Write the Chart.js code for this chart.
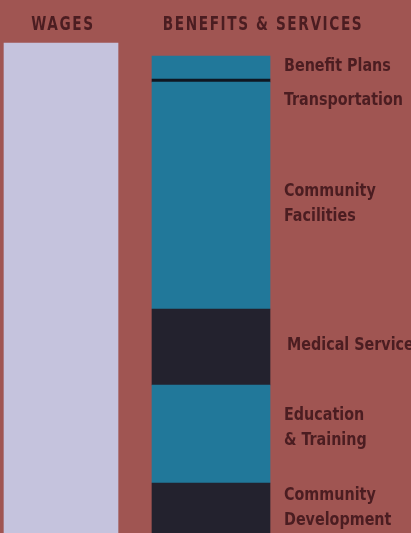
<!DOCTYPE html>
<html>
<head>
<meta charset="utf-8">
<script src="https://cdn.jsdelivr.net/npm/chart.js@4"></script>
<style>
  html, body { margin: 0; padding: 0; background: #a05552; }
  #wrap { width: 411px; height: 533px; position: relative; }
</style>
</head>
<body>
<div id="wrap"><canvas id="c"></canvas></div>
<script>
// ---- data (arbitrary height units) ----
const categories = ['WAGES', 'BENEFITS & SERVICES'];
const wages = [490, null];
// benefit segments, listed bottom to top
const benefitNames = ['Community Development', 'Education & Training', 'Medical Services',
                      'Community Facilities', 'Transportation', 'Benefit Plans'];
const benefitValues = [50, 98, 76, 227, 3, 23];
const benefitLabelLines = [['Community', 'Development'], ['Education', '& Training'], ['Medical Services'],
                           ['Community', 'Facilities'], ['Transportation'], ['Benefit Plans']];
const yMax = 533;

// ---- styles ----
const TEAL = '#21789a';
const DARK = '#23222e';
const LINE = '#0f1722';
const WAGE = '#c5c3dd';
const TEXT = '#4b1d21';
const benefitColors = [DARK, TEAL, DARK, TEAL, LINE, TEAL];
const labelOffsets = [0, -6, -2, 8, 20, -1];
const FONT = '"Liberation Sans Narrow", "DejaVu Sans Condensed", sans-serif';

const datasets = [{
  label: 'Wages',
  data: wages,
  backgroundColor: WAGE,
  barThickness: 114,
  clip: false
}];
benefitNames.forEach((n, i) => {
  datasets.push({
    label: n,
    data: [null, benefitValues[i]],
    backgroundColor: benefitColors[i],
    barThickness: 118,
    clip: false
  });
});

function squeezed(ctx, text, x, y, sx) {
  ctx.save();
  ctx.translate(x, y);
  ctx.scale(sx, 1);
  ctx.fillText(text, 0, 0);
  ctx.restore();
}

const textPlugin = {
  id: 'texts',
  afterDraw(chart) {
    const ctx = chart.ctx;
    const xs = chart.scales.x;
    ctx.save();
    ctx.fillStyle = TEXT;
    ctx.textBaseline = 'middle';
    // headers
    ctx.font = 'bold 19px ' + FONT;
    ctx.textAlign = 'center';
    if ('letterSpacing' in ctx) ctx.letterSpacing = '2px';
    squeezed(ctx, categories[0], xs.getPixelForValue(0) + 2, 25, 0.8);
    squeezed(ctx, categories[1], xs.getPixelForValue(1) + 52, 25, 0.8);
    if ('letterSpacing' in ctx) ctx.letterSpacing = '0px';
    // segment labels
    ctx.font = 'bold 18px ' + FONT;
    ctx.textAlign = 'left';
    benefitNames.forEach((n, i) => {
      const el = chart.getDatasetMeta(i + 1).data[1];
      const cy = (el.y + el.base) / 2 + labelOffsets[i];
      const lines = benefitLabelLines[i];
      const lh = 25;
      const x = el.x + el.width / 2 + 14;
      lines.forEach((ln, k) => {
        squeezed(ctx, ln, x + (i === 2 ? 3 : 0), cy + (k - (lines.length - 1) / 2) * lh, 0.885);
      });
    });
    ctx.restore();
  }
};

new Chart(document.getElementById('c'), {
  type: 'bar',
  data: { labels: categories, datasets },
  options: {
    responsive: true,
    maintainAspectRatio: false,
    animation: false,
    layout: { padding: { left: 61, right: 200, top: 0, bottom: 0 } },
    plugins: { legend: { display: false }, tooltip: { enabled: false } },
    scales: {
      x: { stacked: true, offset: false, display: false, grid: { display: false } },
      y: { stacked: true, min: 0, max: yMax, display: false, grid: { display: false } }
    }
  },
  plugins: [textPlugin]
});
</script>
</body>
</html>
